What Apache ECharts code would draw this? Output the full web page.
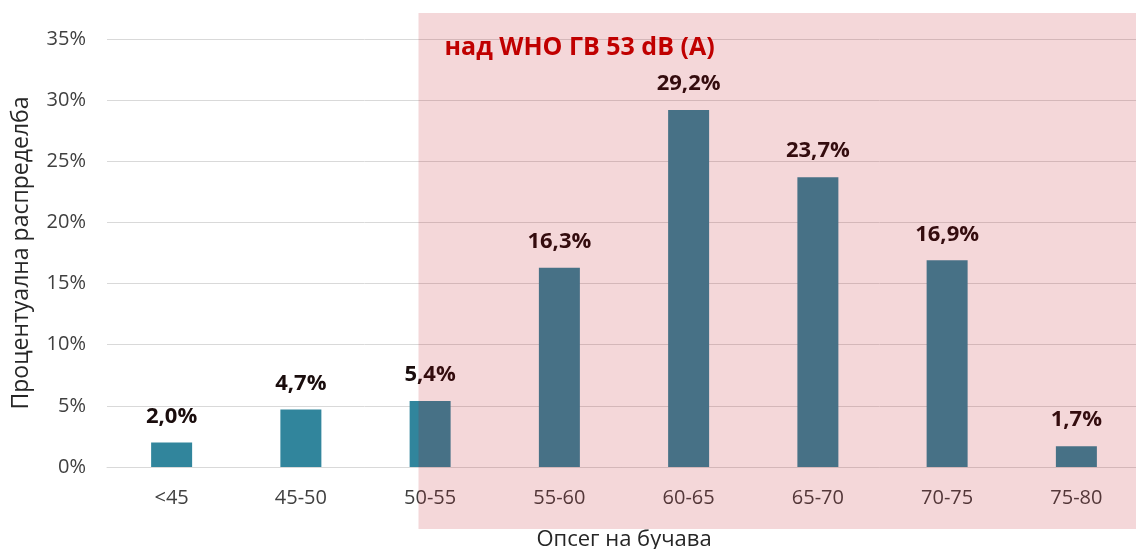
<!DOCTYPE html>
<html><head><meta charset="utf-8">
<script src="https://cdn.jsdelivr.net/npm/echarts@6/dist/echarts.min.js"></script>
<style>html,body{margin:0;padding:0;background:#fff;overflow:hidden}#c{width:1136px;height:549px}</style>
</head><body><div id="c"></div>
<script>
var categories = ['<45','45-50','50-55','55-60','60-65','65-70','70-75','75-80'];
var values = [2.0, 4.7, 5.4, 16.3, 29.2, 23.7, 16.9, 1.7];
var yTicks = [0, 5, 10, 15, 20, 25, 30, 35];
var yName = 'Процентуална распределба';
var xName = 'Опсег на бучава';
var note = 'над WHO ГВ 53 dB (А)';
var highlightFrom = '50-55';

var FONT = 'Open Sans';
var chart = echarts.init(document.getElementById('c'), null, {renderer:'canvas', width:1136, height:549});
chart.setOption({
  animation:false,
  grid:{left:107, top:39, width:1034, height:428, containLabel:false, outerBoundsMode:'none'},
  xAxis:{type:'category', data:categories,
    axisLine:{lineStyle:{color:'#d9d9d9'}}, axisTick:{show:false},
    axisLabel:{color:'#404040', fontSize:20, fontFamily:FONT, margin:21},
    name:xName, nameLocation:'middle', nameGap:62,
    nameTextStyle:{color:'#262626', fontSize:22, fontFamily:FONT}},
  yAxis:{type:'value', min:yTicks[0], max:yTicks[yTicks.length-1], interval:5,
    axisLabel:{formatter:'{value}%', color:'#404040', fontSize:20, fontFamily:FONT, margin:21},
    splitLine:{lineStyle:{color:'#d9d9d9'}}, axisLine:{show:false}, axisTick:{show:false},
    name:yName, nameLocation:'middle', nameGap:74, nameRotate:90,
    nameTextStyle:{color:'#262626', fontSize:23, fontFamily:FONT}},
  series:[{type:'bar', data:values, barWidth:41,
    itemStyle:{color:'#31859C'},
    label:{show:true, position:'top', distance:15, color:'#1a0d0d', fontWeight:'bold', fontSize:22, fontFamily:FONT,
      formatter:function(p){return p.value.toFixed(1).replace('.',',')+'%';}}}]
});
var idx = categories.indexOf(highlightFrom);
var c = chart.convertToPixel({xAxisIndex:0}, idx);
var prev = chart.convertToPixel({xAxisIndex:0}, idx-1);
if (Array.isArray(c)) c = c[0];
if (Array.isArray(prev)) prev = prev[0];
var band = c - prev;
var x0 = c - band*0.09;
chart.setOption({graphic:[
  {type:'rect', z:100, shape:{x:x0, y:13, width:1136-x0, height:516},
   style:{fill:'rgba(190,10,22,0.165)'}},
  {type:'text', z:101, x:x0+26, y:48, style:{text:note, fill:'#C00000', font:'bold 25px "'+FONT+'"', textVerticalAlign:'middle'}}
]});
</script></body></html>
